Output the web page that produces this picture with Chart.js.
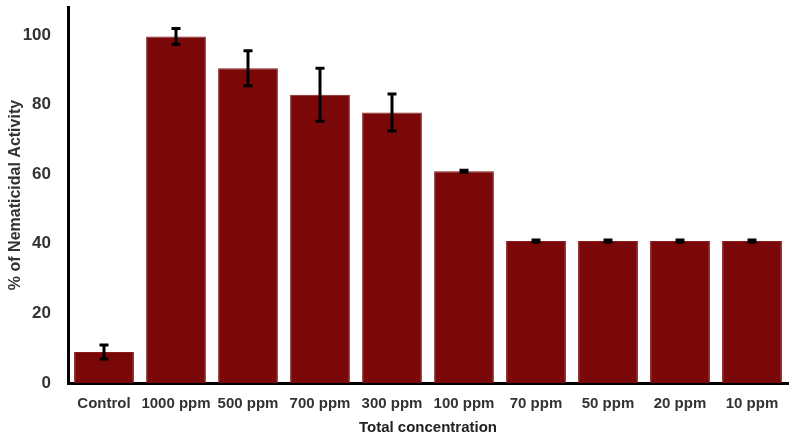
<!DOCTYPE html>
<html>
<head>
<meta charset="utf-8">
<script src="https://cdn.jsdelivr.net/npm/chart.js@4"></script>
<style>
  html, body { margin: 0; padding: 0; background: #fff; }
  #wrap { width: 798px; height: 441px; }
</style>
</head>
<body>
<div id="wrap"><canvas id="activityChart" width="798" height="441"></canvas></div>
<script>
    // data
    const categories = ['Control', '1000 ppm', '500 ppm', '700 ppm', '300 ppm', '100 ppm', '70 ppm', '50 ppm', '20 ppm', '10 ppm'];
    const activity = [8.9, 99.5, 90.4, 82.8, 77.7, 60.8, 40.8, 40.8, 40.8, 40.8];
    const errors = [2.0, 2.3, 5.0, 7.6, 5.3, 0.3, 0.3, 0.3, 0.3, 0.3];
    const yTicks = [0, 20, 40, 60, 80, 100];
    const yMax = 108;

    // Error bars drawn on top of the bars
    const errorBars = {
      id: 'errorBars',
      afterDatasetsDraw(chart) {
        const ctx = chart.ctx;
        const meta = chart.getDatasetMeta(0);
        const y = chart.scales.y;
        ctx.save();
        ctx.strokeStyle = '#000';
        ctx.lineWidth = 3;
        meta.data.forEach((bar, i) => {
          const top = y.getPixelForValue(activity[i] + errors[i]);
          const bot = y.getPixelForValue(activity[i] - errors[i]);
          ctx.beginPath();
          ctx.moveTo(bar.x, top); ctx.lineTo(bar.x, bot);
          ctx.moveTo(bar.x - 4.5, top); ctx.lineTo(bar.x + 4.5, top);
          ctx.moveTo(bar.x - 4.5, bot); ctx.lineTo(bar.x + 4.5, bot);
          ctx.stroke();
        });
        ctx.restore();
      }
    };

    const ctx1 = document.getElementById('activityChart').getContext('2d');
    new Chart(ctx1, {
      type: 'bar',
      data: {
        labels: categories,
        datasets: [{
          data: activity,
          backgroundColor: '#7a0808',
          borderColor: '#8c1c1c',
          borderWidth: 1,
          barPercentage: 0.83,
          categoryPercentage: 1
        }]
      },
      options: {
        responsive: false,
        animation: false,
        layout: { padding: { top: 7, right: 10, bottom: 4, left: 6 } },
        plugins: {
          legend: { display: false },
          tooltip: { enabled: false }
        },
        scales: {
          x: {
            grid: { display: false },
            border: { color: '#000', width: 3 },
            ticks: {
              color: '#333',
              font: { family: 'Liberation Sans, Arial', size: 15, weight: 'bold' },
              maxRotation: 0,
              autoSkip: false,
              padding: 4
            },
            title: {
              display: true,
              text: 'Total concentration',
              color: '#222',
              font: { family: 'Liberation Sans, Arial', size: 15, weight: 'bold' },
              padding: { top: 8, bottom: 0 }
            },
            afterFit(scale) { scale.height = 54; }
          },
          y: {
            min: 0,
            max: yMax,
            afterBuildTicks(scale) { scale.ticks = yTicks.map(v => ({ value: v })); },
            grid: { display: false },
            border: { color: '#000', width: 3 },
            ticks: {
              color: '#333',
              font: { family: 'Liberation Sans, Arial', size: 17, weight: 'bold' },
              padding: 9
            },
            title: {
              display: true,
              text: '% of Nematicidal Activity',
              color: '#333',
              font: { family: 'Liberation Sans, Arial', size: 16, weight: 'bold' },
              padding: { top: 0, bottom: 4 }
            },
            // the top tick sits below the max, so no label padding is needed above it
            afterFit(scale) { scale.width = 62; scale.paddingTop = 0; }
          }
        }
      },
      plugins: [errorBars]
    });
</script>
</body>
</html>
